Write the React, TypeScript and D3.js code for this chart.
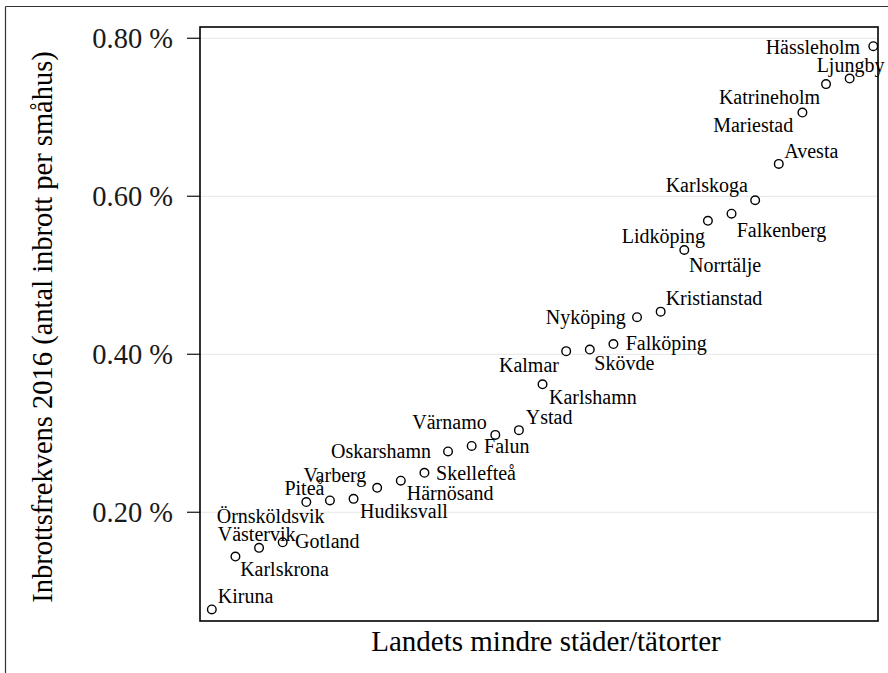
import React from "react";
import * as d3 from "d3";

// ---- data ----
const cities: string[] = [
  "Kiruna", "Karlskrona", "Västervik", "Gotland", "Piteå", "Örnsköldsvik",
  "Hudiksvall", "Varberg", "Härnösand", "Skellefteå", "Oskarshamn", "Falun",
  "Värnamo", "Ystad", "Karlshamn", "Kalmar", "Skövde", "Falköping", "Nyköping",
  "Kristianstad", "Norrtälje", "Lidköping", "Falkenberg", "Karlskoga", "Avesta",
  "Mariestad", "Katrineholm", "Ljungby", "Hässleholm",
];
const rate: number[] = [
  0.077, 0.144, 0.155, 0.162, 0.213, 0.215,
  0.217, 0.231, 0.240, 0.250, 0.277, 0.284,
  0.298, 0.304, 0.362, 0.404, 0.406, 0.413, 0.447,
  0.454, 0.532, 0.569, 0.578, 0.595, 0.641,
  0.706, 0.742, 0.749, 0.790,
];
const yTicks: number[] = [0.2, 0.4, 0.6, 0.8];
const xTitle = "Landets mindre städer/tätorter";
const yTitle = "Inbrottsfrekvens 2016 (antal inbrott per småhus)";

// label placement (pixel offsets from each point, text start + baseline)
const labelDx: number[] = [
  6, 4.7, -41.3, 12.4, -21.9, -113.2,
  6.5, -73.8, 6, 11.6, -117, 12.4,
  -83, 6.8, 6.5, -67.2, 4.5, 12.3, -91.3,
  5, 4.7, -86.2, 5.1, -89.5, 5.5,
  -89.2, -107.1, -33, -107.6,
];
const labelDy: number[] = [
  -6, 19.3, -7, 5.6, -6.7, 23,
  19.3, -6.3, 19, 7.3, 6.6, 7.3,
  -5.7, -6.3, 19.7, 20.7, 20, 5.7, 6.5,
  -6.2, 22.3, 22.3, 23.2, -8.5, -6.4,
  19.4, 20.3, -7, 8.3,
];

const W = 888;
const H = 673;
const panel = { left: 200, right: 878, top: 27, bottom: 621 };
const FONT = "'Liberation Serif', 'Times New Roman', serif";

export default function App() {
  const x = d3
    .scaleLinear()
    .domain([-0.5, 28.2])
    .range([panel.left, panel.right]);
  const y = d3
    .scaleLinear()
    .domain([0.0624, 0.8143])
    .range([panel.bottom, panel.top]);
  const fmt = (v: number) => d3.format(".2f")(v) + " %";

  return (
    <svg
      width={W}
      height={H}
      style={{ position: "absolute", left: 0, top: 0, background: "#fff" }}
      fontFamily={FONT}
    >
      {/* outer plot border (cropped) */}
      <line x1={5.5} x2={5.5} y1={6.5} y2={H} stroke="#333" strokeWidth={1.2} />
      <line x1={5.5} x2={W} y1={6.5} y2={6.5} stroke="#333" strokeWidth={1.2} />

      {/* gridlines */}
      {yTicks.map((t) => (
        <line
          key={"g" + t}
          x1={panel.left}
          x2={panel.right}
          y1={y(t)}
          y2={y(t)}
          stroke="#ebebeb"
          strokeWidth={1.2}
        />
      ))}

      {/* y ticks + labels */}
      {yTicks.map((t) => (
        <g key={"t" + t}>
          <line
            x1={panel.left - 13}
            x2={panel.left}
            y1={y(t)}
            y2={y(t)}
            stroke="#333"
            strokeWidth={1.4}
          />
          <text
            x={173}
            y={y(t)}
            dy="0.33em"
            textAnchor="end"
            fontSize={28.5}
            fill="#1a1a1a"
          >
            {fmt(t)}
          </text>
        </g>
      ))}

      {/* points */}
      {rate.map((v, i) => (
        <circle
          key={"p" + i}
          cx={x(i)}
          cy={y(v)}
          r={4.3}
          fill="#fff"
          stroke="#000"
          strokeWidth={1.4}
        />
      ))}

      {/* labels */}
      {cities.map((c, i) => (
        <text
          key={"l" + i}
          x={x(i) + labelDx[i]}
          y={y(rate[i]) + labelDy[i]}
          fontSize={20}
          fill="#000"
        >
          {c}
        </text>
      ))}

      {/* panel border */}
      <rect
        x={panel.left}
        y={panel.top}
        width={panel.right - panel.left}
        height={panel.bottom - panel.top}
        fill="none"
        stroke="#000"
        strokeWidth={1.6}
      />

      {/* axis titles */}
      <text
        x={(panel.left + panel.right) / 2 + 7}
        y={651}
        textAnchor="middle"
        fontSize={29}
        fill="#000"
      >
        {xTitle}
      </text>
      <text
        transform={`translate(52, ${(panel.top + panel.bottom) / 2 + 3}) rotate(-90)`}
        textAnchor="middle"
        fontSize={28.5}
        fill="#000"
      >
        {yTitle}
      </text>
    </svg>
  );
}
